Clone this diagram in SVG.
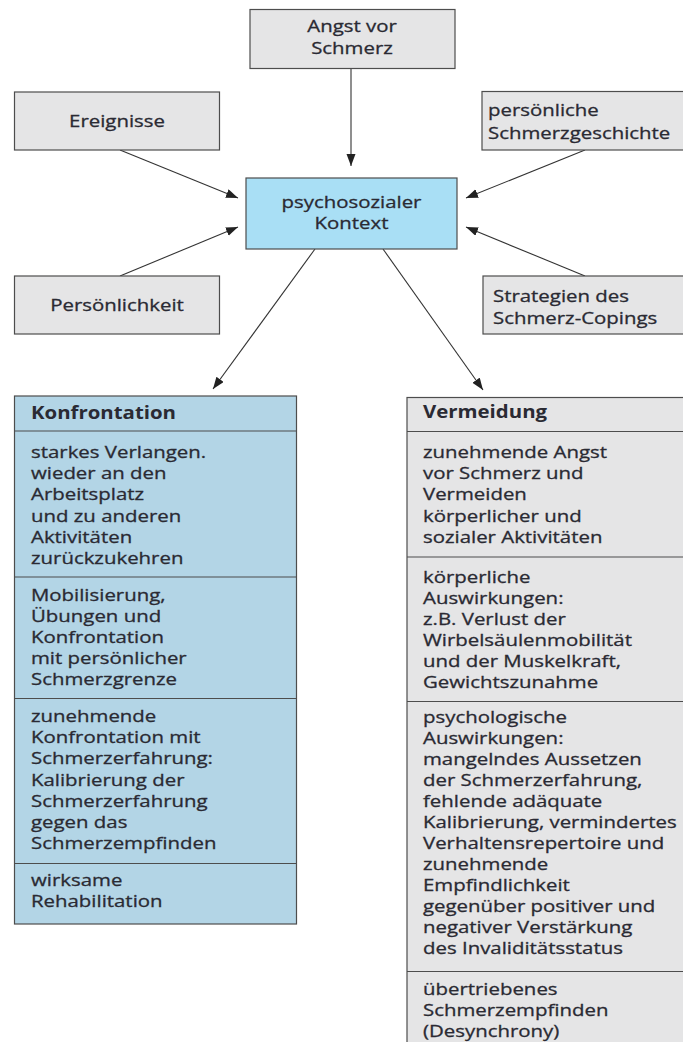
<svg xmlns="http://www.w3.org/2000/svg" width="683" height="1042" viewBox="0 0 683 1042">
<style>
.t{font-family:"Open Sans","Noto Sans",sans-serif;font-size:17px;fill:#2a2a33;stroke:#2a2a33;stroke-width:0.3}
.b{font-weight:bold;stroke-width:0}
.box{stroke:#4d4d4d;stroke-width:1.2}
.gray{fill:#e5e5e6}
.blue{fill:#a9dff5}
.col{fill:#b3d5e6}
.div{stroke:#4d4d4d;stroke-width:1.2}
.conn{stroke:#333;stroke-width:1.1;fill:none;marker-end:url(#ah)}
</style>
<defs>
<marker id="ah" markerUnits="userSpaceOnUse" markerWidth="12" markerHeight="10" refX="12" refY="4.5" orient="auto"><path d="M0,0 L12,4.5 L0,9 z" fill="#222"/></marker>
</defs>
<rect width="683" height="1042" fill="#ffffff"/>
<g id="connectors">
<line class="conn" x1="351" y1="68" x2="351" y2="166"/>
<line class="conn" x1="120" y1="150" x2="238" y2="198"/>
<line class="conn" x1="120" y1="276" x2="238" y2="227"/>
<line class="conn" x1="585" y1="150" x2="466" y2="198"/>
<line class="conn" x1="585" y1="276" x2="466" y2="227"/>
<line class="conn" x1="315" y1="249" x2="213" y2="389"/>
<line class="conn" x1="383" y1="249" x2="483" y2="390"/>
</g>
<g id="angst">
<rect class="box gray" x="250" y="9.5" width="205" height="59"/>
<text class="t" text-anchor="middle" transform="translate(352,32) scale(1.2,1)"><tspan x="0" y="0">Angst vor</tspan><tspan x="0" y="22">Schmerz</tspan></text>
</g>
<g id="ereignisse">
<rect class="box gray" x="14.5" y="92" width="205" height="58"/>
<text class="t" text-anchor="middle" transform="translate(117,127) scale(1.2,1)">Ereignisse</text>
</g>
<g id="geschichte">
<rect class="box gray" x="482" y="91.5" width="210" height="58.5"/>
<text class="t" transform="translate(488,116) scale(1.2,1)"><tspan x="0" y="0">persönliche</tspan><tspan x="0" y="23">Schmerzgeschichte</tspan></text>
</g>
<g id="kontext">
<rect class="box blue" x="246" y="178" width="211" height="71"/>
<text class="t" text-anchor="middle" transform="translate(351.5,208) scale(1.2,1)"><tspan x="0" y="0">psychosozialer</tspan><tspan x="0" y="21.5">Kontext</tspan></text>
</g>
<g id="persoenlichkeit">
<rect class="box gray" x="14.5" y="276" width="205" height="58"/>
<text class="t" text-anchor="middle" transform="translate(117,311) scale(1.2,1)">Persönlichkeit</text>
</g>
<g id="coping">
<rect class="box gray" x="483" y="276" width="210" height="58"/>
<text class="t" transform="translate(493,302) scale(1.2,1)"><tspan x="0" y="0">Strategien des</tspan><tspan x="0" y="22">Schmerz-Copings</tspan></text>
</g>
<g id="konfrontation">
<rect class="box col" x="14.5" y="396" width="282" height="528"/>
<line class="div" x1="14.5" y1="431" x2="296.5" y2="431"/>
<line class="div" x1="14.5" y1="577" x2="296.5" y2="577"/>
<line class="div" x1="14.5" y1="698.5" x2="296.5" y2="698.5"/>
<line class="div" x1="14.5" y1="863.5" x2="296.5" y2="863.5"/>
<text class="t b" transform="translate(31,419) scale(1.2,1)">Konfrontation</text>
<text class="t" transform="translate(31,458) scale(1.2,1)"><tspan x="0" y="0">starkes Verlangen.</tspan><tspan x="0" y="21.2">wieder an den</tspan><tspan x="0" y="42.4">Arbeitsplatz</tspan><tspan x="0" y="63.6">und zu anderen</tspan><tspan x="0" y="84.8">Aktivitäten</tspan><tspan x="0" y="106">zurückzukehren</tspan></text>
<text class="t" transform="translate(31,601) scale(1.2,1)"><tspan x="0" y="0">Mobilisierung,</tspan><tspan x="0" y="21">Übungen und</tspan><tspan x="0" y="42">Konfrontation</tspan><tspan x="0" y="63">mit persönlicher</tspan><tspan x="0" y="84">Schmerzgrenze</tspan></text>
<text class="t" transform="translate(31,722) scale(1.2,1)"><tspan x="0" y="0">zunehmende</tspan><tspan x="0" y="21.2">Konfrontation mit</tspan><tspan x="0" y="42.4">Schmerzerfahrung:</tspan><tspan x="0" y="63.6">Kalibrierung der</tspan><tspan x="0" y="84.8">Schmerzerfahrung</tspan><tspan x="0" y="106">gegen das</tspan><tspan x="0" y="127.2">Schmerzempfinden</tspan></text>
<text class="t" transform="translate(31,886) scale(1.2,1)"><tspan x="0" y="0">wirksame</tspan><tspan x="0" y="21.5">Rehabilitation</tspan></text>
</g>
<g id="vermeidung">
<rect class="box gray" x="407" y="397.5" width="290" height="660"/>
<line class="div" x1="407" y1="431.5" x2="697" y2="431.5"/>
<line class="div" x1="407" y1="557" x2="697" y2="557"/>
<line class="div" x1="407" y1="701.5" x2="697" y2="701.5"/>
<line class="div" x1="407" y1="971.5" x2="697" y2="971.5"/>
<text class="t b" transform="translate(423,418) scale(1.2,1)">Vermeidung</text>
<text class="t" transform="translate(423,458) scale(1.2,1)"><tspan x="0" y="0">zunehmende Angst</tspan><tspan x="0" y="21.2">vor Schmerz und</tspan><tspan x="0" y="42.4">Vermeiden</tspan><tspan x="0" y="63.6">körperlicher und</tspan><tspan x="0" y="84.8">sozialer Aktivitäten</tspan></text>
<text class="t" transform="translate(423,583) scale(1.2,1)"><tspan x="0" y="0">körperliche</tspan><tspan x="0" y="21">Auswirkungen:</tspan><tspan x="0" y="42">z.B. Verlust der</tspan><tspan x="0" y="63">Wirbelsäulenmobilität</tspan><tspan x="0" y="84">und der Muskelkraft,</tspan><tspan x="0" y="105">Gewichtszunahme</tspan></text>
<text class="t" transform="translate(423,723) scale(1.2,1)"><tspan x="0" y="0">psychologische</tspan><tspan x="0" y="21">Auswirkungen:</tspan><tspan x="0" y="42">mangelndes Aussetzen</tspan><tspan x="0" y="63">der Schmerzerfahrung,</tspan><tspan x="0" y="84">fehlende adäquate</tspan><tspan x="0" y="105">Kalibrierung, vermindertes</tspan><tspan x="0" y="126">Verhaltensrepertoire und</tspan><tspan x="0" y="147">zunehmende</tspan><tspan x="0" y="168">Empfindlichkeit</tspan><tspan x="0" y="189">gegenüber positiver und</tspan><tspan x="0" y="210">negativer Verstärkung</tspan><tspan x="0" y="231">des Invaliditätsstatus</tspan></text>
<text class="t" transform="translate(423,995) scale(1.2,1)"><tspan x="0" y="0">übertriebenes</tspan><tspan x="0" y="21">Schmerzempfinden</tspan><tspan x="0" y="42">(Desynchrony)</tspan></text>
</g>
</svg>
